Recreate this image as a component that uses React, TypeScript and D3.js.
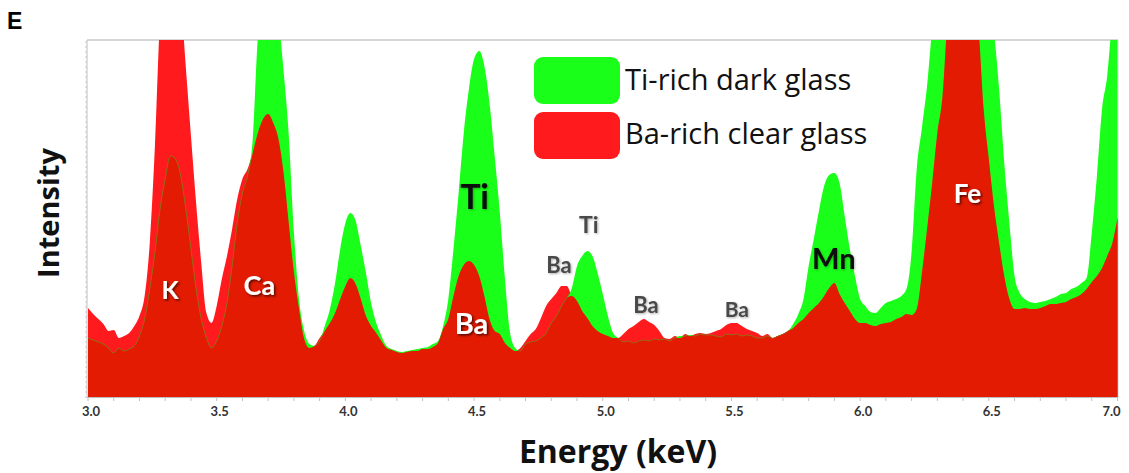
import React from 'react';
import * as d3 from 'd3';

// Channel grid of the spectra (keV)
const energyStart = 3.0;
const energyStep = 0.02;

// Ti-rich dark glass (green), 3.00 .. 7.00 keV, step 0.02
const tiRichDark = [
  59, 57, 55, 53, 49, 44, 49, 46, 48, 51,
  61, 78, 108, 144, 188, 218, 241, 238, 221, 188,
  148, 108, 78, 59, 49, 56, 71, 94, 131, 174,
  204, 221, 258, 360, 395, 410, 400, 378, 326, 262,
  165, 98, 66, 53, 51, 56, 71, 88, 114, 148,
  174, 184, 176, 151, 124, 94, 74, 61, 51, 48,
  46, 45, 46, 47, 48, 49, 50, 53, 56, 71,
  98, 148, 204, 264, 308, 338, 346, 331, 294, 241,
  185, 118, 64, 49, 46, 53, 55, 56, 59, 64,
  74, 81, 91, 99, 109, 131, 141, 146, 141, 124,
  103, 81, 64, 59, 55, 56, 54, 56, 57, 56,
  58, 57, 58, 56, 59, 61, 61, 62, 61, 63,
  62, 62, 61, 60, 63, 62, 63, 61, 62, 61,
  59, 59, 61, 59, 61, 63, 66, 73, 83, 98,
  131, 158, 186, 211, 222, 224, 214, 181, 148, 121,
  98, 91, 85, 84, 89, 94, 96, 98, 101, 108,
  145, 228, 269, 311, 370, 420, 470, 510, 540, 560,
  565, 555, 530, 490, 440, 400, 365, 308, 234, 174,
  121, 104, 98, 95, 94, 95, 96, 98, 100, 103,
  104, 108, 110, 114, 119, 164, 221, 288, 321, 380,
  420,
];

// Ba-rich clear glass (red), 3.00 .. 7.00 keV, step 0.02
const baRichClear = [
  89, 83, 78, 73, 66, 67, 59, 61, 64, 71,
  81, 101, 154, 251, 380, 430, 450, 440, 400, 330,
  261, 194, 134, 84, 74, 91, 118, 141, 168, 198,
  218, 228, 244, 264, 278, 283, 274, 258, 224, 174,
  125, 88, 58, 49, 51, 59, 66, 74, 84, 98,
  111, 119, 113, 98, 81, 71, 64, 56, 49, 47,
  45, 44, 45, 46, 46, 48, 48, 50, 54, 68,
  78, 101, 121, 132, 136, 132, 121, 101, 78, 66,
  63, 54, 49, 46, 49, 56, 63, 68, 79, 91,
  98, 104, 111, 111, 101, 96, 86, 79, 71, 66,
  63, 61, 59, 59, 63, 68, 71, 75, 78, 75,
  72, 66, 59, 58, 61, 59, 63, 61, 63, 64,
  63, 64, 66, 68, 72, 74, 74, 71, 68, 66,
  64, 61, 63, 59, 61, 63, 66, 69, 74, 78,
  84, 89, 94, 101, 109, 114, 103, 94, 86, 78,
  74, 74, 72, 71, 73, 74, 75, 78, 80, 83,
  82, 88, 124, 168, 214, 264, 301, 380, 430, 460,
  470, 460, 420, 370, 288, 238, 191, 154, 121, 98,
  88, 88, 89, 88, 88, 89, 91, 93, 93, 94,
  95, 98, 100, 103, 108, 115, 121, 129, 141, 154,
  179,
];

const xTickValues = [3.0, 3.5, 4.0, 4.5, 5.0, 5.5, 6.0, 6.5, 7.0];
const legendLabels = ['Ti-rich dark glass', 'Ba-rich clear glass'];

type PeakLabel = { text: string; e: number; v: number; size: number; kind: 'white' | 'black' | 'gray' };
const peakLabels: PeakLabel[] = [
  { text: 'K', e: 3.319, v: 98, size: 25, kind: 'white' },
  { text: 'Ca', e: 3.666, v: 102, size: 27, kind: 'white' },
  { text: 'Ti', e: 4.502, v: 188, size: 34, kind: 'black' },
  { text: 'Ba', e: 4.49, v: 63, size: 29, kind: 'white' },
  { text: 'Ba', e: 4.83, v: 124, size: 22, kind: 'gray' },
  { text: 'Ti', e: 4.946, v: 164, size: 23, kind: 'gray' },
  { text: 'Ba', e: 5.168, v: 84, size: 22, kind: 'gray' },
  { text: 'Ba', e: 5.521, v: 80, size: 21, kind: 'gray' },
  { text: 'Mn', e: 5.898, v: 128, size: 29, kind: 'black' },
  { text: 'Fe', e: 6.417, v: 194, size: 26, kind: 'white' },
];

const W = 1129;
const H = 473;
const plot = { left: 88, right: 1118, top: 40, bottom: 397 };

const GREEN = '#1aff1a';
const RED = '#ff1a1d';
const DARK = '#e21b02';
const OLIVE = '#9c6418';
const FONT = 'Lato, "Open Sans", sans-serif';
const TITLE_FONT = '"Open Sans", Lato, sans-serif';

export default function App() {
  const x = d3.scaleLinear().domain([3, 7]).range([plot.left, plot.right - 0.5]);
  const y = d3.scaleLinear().domain([0, 357]).range([plot.bottom, plot.top]);

  const green = tiRichDark.map((v, i) => ({ e: energyStart + i * energyStep, v }));
  const red = baRichClear.map((v, i) => ({ e: energyStart + i * energyStep, v }));
  const both = red.map((d, i) => ({ e: d.e, v: Math.min(d.v, green[i].v) }));

  const area = d3
    .area<{ e: number; v: number }>()
    .x((d) => x(d.e))
    .y0(y(0))
    .y1((d) => y(d.v))
    .curve(d3.curveMonotoneX);
  const line = d3
    .line<{ e: number; v: number }>()
    .x((d) => x(d.e))
    .y((d) => y(d.v))
    .curve(d3.curveMonotoneX);

  const minorX = d3.range(30, 71).map((k) => k / 10);
  const minorY = y.ticks(70);

  const labelFill = { white: '#ffffff', black: '#0a0a0a', gray: '#4a4a4a' };

  return (
    <svg
      width={W}
      height={H}
      style={{ position: 'absolute', left: 0, top: 0, background: '#fff' }}
      fontFamily={FONT}
    >
      <defs>
        <clipPath id="plotClip">
          <rect x={plot.left} y={plot.top} width={plot.right - plot.left} height={plot.bottom - plot.top} />
        </clipPath>
        <clipPath id="redClip">
          <path d={area(red) || ''} />
        </clipPath>
        <filter id="shadowDark" x="-30%" y="-30%" width="160%" height="160%">
          <feDropShadow dx="1.5" dy="1.5" stdDeviation="1" floodColor="#000" floodOpacity="0.65" />
        </filter>
        <filter id="shadowLight" x="-30%" y="-30%" width="160%" height="160%">
          <feDropShadow dx="1" dy="1" stdDeviation="1" floodColor="#000" floodOpacity="0.3" />
        </filter>
      </defs>

      <rect x={0} y={0} width={W} height={H} fill="#fff" />

      {/* panel letter */}
      <text x={7} y={29} fontFamily="Liberation Sans, Arial, sans-serif" fontWeight="bold" fontSize={23} fill="#000">
        E
      </text>

      {/* frame */}
      <line x1={plot.left - 1} x2={plot.right} y1={plot.top} y2={plot.top} stroke="#c8c8c8" strokeWidth={1.5} />
      <line x1={plot.right} x2={plot.right} y1={plot.top} y2={plot.bottom} stroke="#d0d0d0" strokeWidth={1} />
      <line x1={plot.left - 1} x2={plot.left - 1} y1={plot.top} y2={plot.bottom} stroke="#bdbdbd" strokeWidth={1} />
      {minorY.map((t) => (
        <line key={'yt' + t} x1={plot.left - 3} x2={plot.left - 1} y1={y(t)} y2={y(t)} stroke="#c8c8c8" strokeWidth={1} />
      ))}

      {/* spectra */}
      <g clipPath="url(#plotClip)">
        <path d={area(red) || ''} fill={RED} />
        <path d={area(green) || ''} fill={GREEN} />
        <path d={area(both) || ''} fill={DARK} />
        <g clipPath="url(#redClip)">
          <path d={line(green) || ''} fill="none" stroke={OLIVE} strokeWidth={1} />
        </g>
      </g>

      {/* x axis */}
      <line x1={plot.left - 1} x2={plot.right} y1={plot.bottom + 0.5} y2={plot.bottom + 0.5} stroke="#bdbdbd" strokeWidth={1} />
      {minorX.map((t) => (
        <line key={'xt' + t} x1={x(t)} x2={x(t)} y1={plot.bottom} y2={plot.bottom + 4} stroke="#c0c0c0" strokeWidth={1} />
      ))}
      {xTickValues.map((t) => (
        <text
          key={'xl' + t}
          x={t === 7 ? x(t) - 6 : x(t) + 3}
          y={416}
          textAnchor="middle"
          fontSize={13}
          fontWeight="bold"
          fill="#333"
        >
          {t.toFixed(1)}
        </text>
      ))}

      {/* axis titles */}
      <text x={618} y={463} textAnchor="middle" fontFamily={TITLE_FONT} fontSize={32} fontWeight="bold" fill="#111">
        Energy (keV)
      </text>
      <text
        transform="translate(59,213) rotate(-90)"
        textAnchor="middle"
        fontFamily={TITLE_FONT}
        fontSize={29}
        fontWeight="bold"
        fill="#111"
      >
        Intensity
      </text>

      {/* legend */}
      {legendLabels.map((lab, i) => (
        <g key={lab}>
          <rect x={534} y={57 + i * 55} width={86} height={47} rx={9} fill={i === 0 ? GREEN : RED} />
          <text x={625} y={90 + i * 54} fontFamily={TITLE_FONT} fontSize={29} fill="#111">
            {lab}
          </text>
        </g>
      ))}

      {/* peak labels */}
      {peakLabels.map((p, i) => (
        <text
          key={'pk' + i}
          x={x(p.e)}
          y={y(p.v)}
          textAnchor="middle"
          fontSize={p.size}
          fontWeight="bold"
          fill={labelFill[p.kind]}
          filter={p.kind === 'white' ? 'url(#shadowDark)' : 'url(#shadowLight)'}
        >
          {p.text}
        </text>
      ))}
    </svg>
  );
}
